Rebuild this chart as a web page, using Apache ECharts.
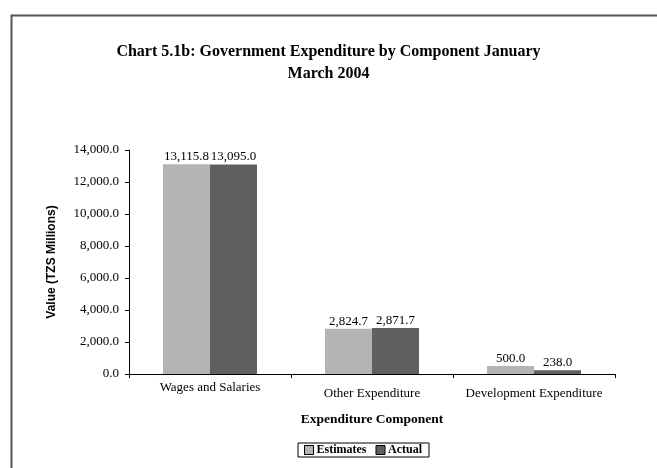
<!DOCTYPE html>
<html><head><meta charset="utf-8">
<script src="https://cdn.jsdelivr.net/npm/echarts@6/dist/echarts.min.js"></script>
<style>html,body{margin:0;padding:0;background:#fff}#c{width:657px;height:468px}</style>
</head><body><div id="c"></div>
<script>
const categories = ['Wages and Salaries', 'Other Expenditure', 'Development Expenditure'];
const estimates = [13115.8, 2824.7, 500.0];
const actual = [13095.0, 2871.7, 238.0];
const seriesNames = ['Estimates', 'Actual'];
const yTicks = { min: 0, max: 14000, interval: 2000 };

const serif = '"Liberation Serif", "DejaVu Serif", serif';
const sans = '"Liberation Sans", Arial, sans-serif';
const fmt = v => Number(v).toLocaleString('en-US', {minimumFractionDigits: 1, maximumFractionDigits: 1});

const chart = echarts.init(document.getElementById('c'), null, {renderer: 'canvas'});
chart.setOption({
  animation: false,
  backgroundColor: '#fff',
  graphic: [{
    type: 'rect', left: 9, top: 13, z: -1,
    shape: {width: 700, height: 500},
    style: {fill: 'none', stroke: '#555', lineWidth: 2}
  }],
  title: {
    text: 'Chart 5.1b: Government Expenditure by Component January\nMarch 2004',
    left: 'center', top: 36,
    textStyle: {fontFamily: serif, fontWeight: 'bold', fontSize: 16, lineHeight: 22, color: '#000'}
  },
  legend: {
    data: seriesNames,
    left: 298, top: 443,
    orient: 'horizontal',
    itemWidth: 9, itemHeight: 9, itemGap: 9,
    padding: [1, 7, 1, 6],
    borderColor: '#000', borderWidth: 1,
    icon: 'rect',
    textStyle: {fontFamily: serif, fontWeight: 'bold', fontSize: 12, color: '#000', padding: [0, 0, 0, -2]},
    itemStyle: {borderColor: '#000', borderWidth: 1}
  },
  grid: {left: 129, right: 42, top: 150, bottom: 94, containLabel: false},
  xAxis: {
    type: 'category',
    data: categories,
    name: 'Expenditure Component',
    nameLocation: 'middle', nameGap: 39,
    nameTextStyle: {fontFamily: serif, fontWeight: 'bold', fontSize: 13.5, color: '#000'},
    axisLine: {lineStyle: {color: '#000', width: 1}},
    axisTick: {show: true, inside: false, length: 4, alignWithLabel: false, lineStyle: {color: '#000'}},
    axisLabel: {
      interval: 0, margin: 7,
      fontFamily: serif, fontSize: 13, color: '#000',
      formatter: (v, i) => i === 0 ? '{a|' + v + '}' : '{b|' + v + '}',
      rich: {
        a: {fontFamily: serif, fontSize: 13, color: '#000', padding: [0, 0, 0, 0]},
        b: {fontFamily: serif, fontSize: 13, color: '#000', padding: [6, 0, 0, 0]}
      }
    }
  },
  yAxis: {
    type: 'value',
    min: yTicks.min, max: yTicks.max, interval: yTicks.interval,
    name: 'Value (TZS Millions)',
    nameLocation: 'middle', nameGap: 71, nameRotate: 90,
    nameTextStyle: {fontFamily: sans, fontWeight: 'bold', fontSize: 12, color: '#000'},
    axisLine: {show: true, lineStyle: {color: '#000', width: 1}},
    axisTick: {show: true, length: 4, lineStyle: {color: '#000'}},
    splitLine: {show: false},
    axisLabel: {fontFamily: serif, fontSize: 13, color: '#000', margin: 10, formatter: v => fmt(v)}
  },
  series: [
    {
      name: seriesNames[0], type: 'bar', data: estimates,
      barWidth: 47, barGap: '0%',
      itemStyle: {color: '#b4b4b4'},
      label: {show: true, position: 'top', distance: 1, fontFamily: serif, fontSize: 13, color: '#000', formatter: p => fmt(p.value)}
    },
    {
      name: seriesNames[1], type: 'bar', data: actual,
      barWidth: 47, barGap: '0%',
      itemStyle: {color: '#606060'},
      label: {show: true, position: 'top', distance: 1, fontFamily: serif, fontSize: 13, color: '#000', formatter: p => fmt(p.value)}
    }
  ]
});
</script></body></html>
